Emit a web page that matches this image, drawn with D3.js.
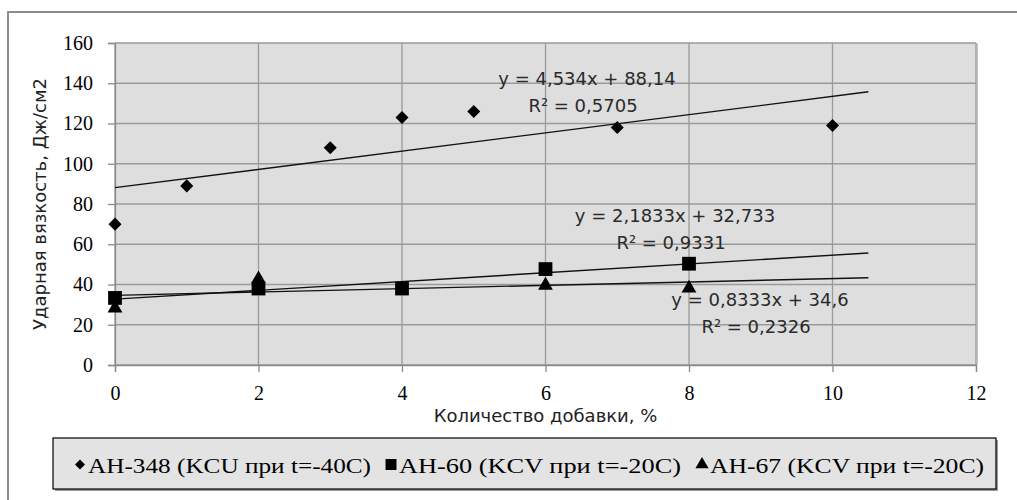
<!DOCTYPE html>
<html>
<head>
<meta charset="utf-8">
<script src="https://cdn.jsdelivr.net/npm/d3@7"></script>
<style>
  html, body { margin: 0; padding: 0; background: #fff; }
  svg { display: block; }
</style>
</head>
<body>
<svg id="chart" width="1017" height="500"></svg>
<script>
// Impact toughness vs. additive amount for three electrode grades
const seriesNames = ["АН-348 (KCU при t=-40С)", "АН-60 (KCV при t=-20С)", "АН-67 (KCV при t=-20С)"];
const seriesSymbols = ["diamond", "square", "triangle"];

const xAH348 = [0, 1, 3, 4, 5, 7, 10];
const yAH348 = [70, 89, 108, 123, 126, 118, 119];

const xAH60 = [0, 2, 4, 6, 8];
const yAH60 = [33.33, 38, 38, 47.67, 50.33];

const xAH67 = [0, 2, 6, 8];
const yAH67 = [29, 43.5, 40.3, 38.9];

// Linear trend lines: slope, intercept and their printed equations
const trendSlopes = [4.534, 2.1833, 0.8333];
const trendIntercepts = [88.14, 32.733, 34.6];
const trendEquations = ["y = 4,534x + 88,14", "y = 2,1833x + 32,733", "y = 0,8333x + 34,6"];
const trendR2 = ["R² = 0,5705", "R² = 0,9331", "R² = 0,2326"];
const trendRange = [0, 10.5];

const xTicks = [0, 2, 4, 6, 8, 10, 12];
const yTicks = [0, 20, 40, 60, 80, 100, 120, 140, 160];

const xTitle = "Количество добавки, %";
const yTitle = "Ударная вязкость, Дж/см2";

const svg = d3.select("#chart");
const plot = { left: 115, right: 976, top: 43, bottom: 365 };

const x = d3.scaleLinear().domain([0, 12]).range([plot.left, plot.right]);
const y = d3.scaleLinear().domain([0, 160]).range([plot.bottom, plot.top]);

const serif = "'Liberation Serif', 'Times New Roman', Tinos, 'DejaVu Serif', serif";
const sans = "'DejaVu Sans', Verdana, sans-serif";

// Outer chart frame
svg.append("rect")
  .attr("x", 8).attr("y", 12).attr("width", 1040).attr("height", 520)
  .attr("fill", "#fff").attr("stroke", "#8c8c8c").attr("stroke-width", 2);

// Plot background
svg.append("rect")
  .attr("x", plot.left).attr("y", plot.top)
  .attr("width", plot.right - plot.left).attr("height", plot.bottom - plot.top)
  .attr("fill", "#dedede");

// Gridlines
svg.append("g").selectAll("line").data(yTicks).join("line")
  .attr("x1", plot.left).attr("x2", plot.right)
  .attr("y1", d => y(d)).attr("y2", d => y(d))
  .attr("stroke", "#9a9a9a").attr("stroke-width", 1.3);
svg.append("g").selectAll("line").data(xTicks).join("line")
  .attr("y1", plot.top).attr("y2", plot.bottom)
  .attr("x1", d => x(d)).attr("x2", d => x(d))
  .attr("stroke", "#9a9a9a").attr("stroke-width", 1.3);

// Right edge of plot frame
svg.append("line")
  .attr("x1", plot.right + 1).attr("x2", plot.right + 1)
  .attr("y1", plot.top).attr("y2", plot.bottom)
  .attr("stroke", "#b0b0b0").attr("stroke-width", 1.5);

// Axes
const xAxis = d3.axisBottom(x).tickValues(xTicks).tickSize(7).tickPadding(14).tickFormat(d3.format("d"));
const yAxis = d3.axisLeft(y).tickValues(yTicks).tickSize(7).tickPadding(15).tickFormat(d3.format("d"));

const gx = svg.append("g").attr("transform", `translate(0,${plot.bottom})`).call(xAxis);
const gy = svg.append("g").attr("transform", `translate(${plot.left},0)`).call(yAxis);
[gx, gy].forEach(g => {
  g.select(".domain").attr("stroke", "#8a8a8a").attr("stroke-width", 1.3);
  g.selectAll(".tick line").attr("stroke", "#8a8a8a").attr("stroke-width", 1.3);
  g.selectAll(".tick text")
    .attr("fill", "#000")
    .style("font-family", serif)
    .style("font-size", "20px");
});

// Trend lines
const trendGroup = svg.append("g");
trendSlopes.forEach((k, i) => {
  const b = trendIntercepts[i];
  trendGroup.append("line")
    .attr("x1", x(trendRange[0])).attr("y1", y(k * trendRange[0] + b))
    .attr("x2", x(trendRange[1])).attr("y2", y(k * trendRange[1] + b))
    .attr("stroke", "#111").attr("stroke-width", 1.4);
});

// Markers
const symbolTypes = { diamond: d3.symbolSquare, square: d3.symbolSquare, triangle: d3.symbolTriangle };
const symbolSizes = { diamond: 85, square: 190, triangle: 95 };
const symbolRotate = { diamond: 45, square: 0, triangle: 0 };
function addSeries(xs, ys, kind) {
  const pts = xs.map((v, i) => ({ x: v, y: ys[i] }));
  svg.append("g").selectAll("path").data(pts).join("path")
    .attr("d", d3.symbol().type(symbolTypes[kind]).size(symbolSizes[kind]))
    .attr("transform", d => `translate(${x(d.x)},${y(d.y) + (kind === "triangle" ? 1.5 : 0)}) rotate(${symbolRotate[kind]})`)
    .attr("fill", "#000");
}
addSeries(xAH348, yAH348, "diamond");
addSeries(xAH60, yAH60, "square");
addSeries(xAH67, yAH67, "triangle");

// Trend line labels
const labelCenters = [[587, 85], [675, 222], [760, 306]];
labelCenters.forEach((c, i) => {
  const t = svg.append("text")
    .attr("text-anchor", "middle")
    .style("font-family", sans).style("font-size", "18px")
    .attr("fill", "#2a2a2a");
  t.append("tspan").attr("x", c[0]).attr("y", c[1]).text(trendEquations[i]);
  t.append("tspan").attr("x", c[0] - 4).attr("y", c[1] + 27).text(trendR2[i]);
});

// Axis titles
svg.append("text")
  .attr("x", (plot.left + plot.right) / 2).attr("y", 422)
  .attr("text-anchor", "middle")
  .style("font-family", sans).style("font-size", "18px")
  .attr("fill", "#222").text(xTitle);
svg.append("text")
  .attr("transform", `translate(46,${(plot.top + plot.bottom) / 2}) rotate(-90)`)
  .attr("text-anchor", "middle")
  .style("font-family", sans).style("font-size", "18px")
  .attr("fill", "#222").text(yTitle);

// Legend
const legend = { x: 53, y: 438, w: 943, h: 51 };
svg.append("rect")
  .attr("x", legend.x + 2).attr("y", legend.y + 2).attr("width", legend.w).attr("height", legend.h)
  .attr("fill", "#9a9a9a");
svg.append("rect")
  .attr("x", legend.x).attr("y", legend.y).attr("width", legend.w).attr("height", legend.h)
  .attr("fill", "#e3e3e3").attr("stroke", "#000").attr("stroke-width", 1.2);

const legendMarkerX = [80, 391, 702];
const legendTextWidth = [283, 282, 274];
const legendItems = svg.append("g").selectAll("g").data(seriesNames).join("g")
  .attr("transform", (d, i) => `translate(${legendMarkerX[i]},${legend.y + legend.h / 2 + 1})`);
legendItems.append("path")
  .attr("d", (d, i) => d3.symbol().type(symbolTypes[seriesSymbols[i]])
    .size({ diamond: 50, square: 120, triangle: 75 }[seriesSymbols[i]])())
  .attr("transform", (d, i) => `rotate(${symbolRotate[seriesSymbols[i]]})`)
  .attr("fill", "#000");
legendItems.append("text")
  .attr("x", 8).attr("y", 8)
  .style("font-family", serif).style("font-size", "22px")
  .attr("textLength", (d, i) => legendTextWidth[i])
  .attr("lengthAdjust", "spacingAndGlyphs")
  .attr("fill", "#000")
  .text(d => d);
</script>
</body>
</html>
